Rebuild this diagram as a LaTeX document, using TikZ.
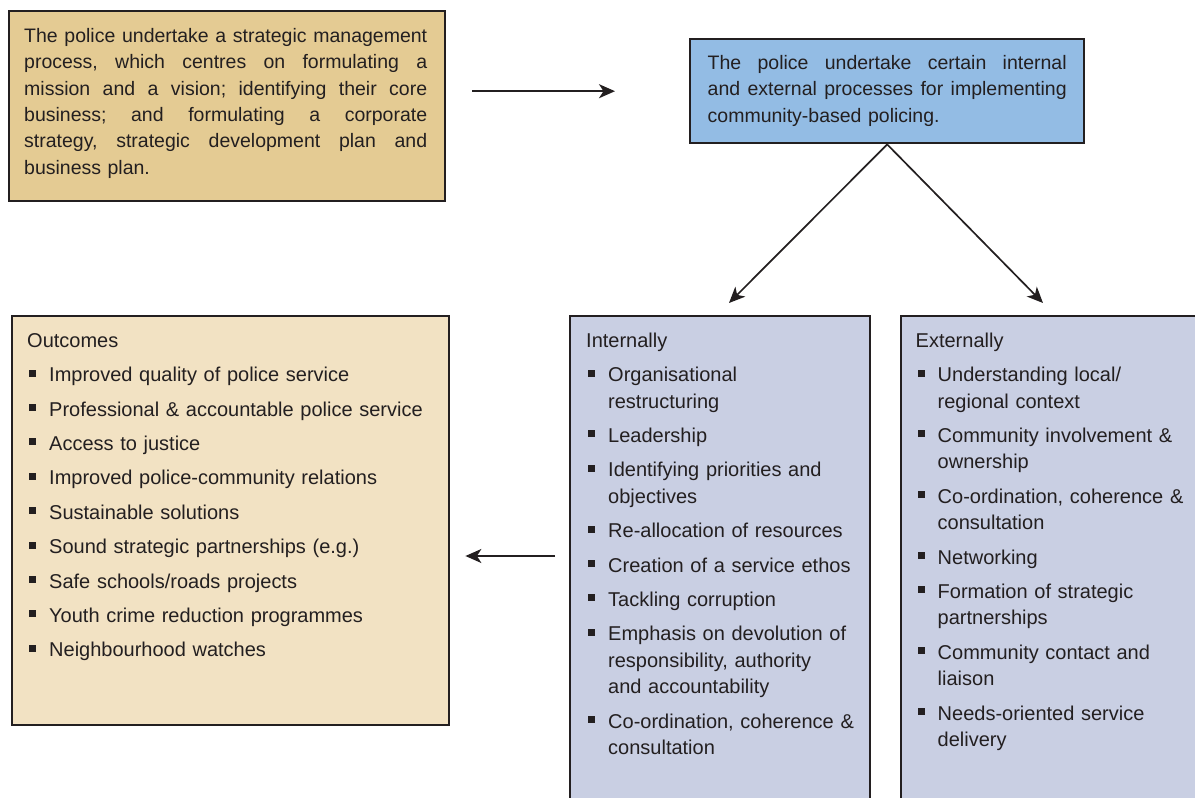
\documentclass[tikz,border=0pt]{standalone}
\usepackage{fontspec}
\setmainfont{Liberation Sans}
\usetikzlibrary{arrows.meta}
\definecolor{ink}{HTML}{231F20}
\definecolor{tanA}{HTML}{E4CB93}
\definecolor{tanB}{HTML}{F2E2C3}
\definecolor{blueA}{HTML}{93BCE4}
\definecolor{lavA}{HTML}{C9CFE3}
\newcommand\bul{\hspace*{2pt}\rule[5pt]{7pt}{7pt}\hspace*{13pt}}
\newcommand\ind{\hspace*{22pt}}
\newcommand\jl[2]{\leavevmode\hbox to #1{#2}}
\newcommand\jsp{ \hfill }
\tikzset{
  boxshape/.style={draw=ink, line width=2.4pt, rectangle, inner sep=0pt, anchor=north west},
  txt/.style={inner sep=0pt, anchor=north west, align=left, text=ink},
  listtxt/.style={txt, font=\fontsize{20}{26.4}\selectfont},
  arr/.style={draw=ink, line width=1.7pt, -{Stealth[length=16pt,width=14pt,inset=4.5pt]}}
}
\begin{document}
\begin{tikzpicture}[x=1pt,y=-1pt,font=\fontsize{19.5}{26.4}\selectfont]
\useasboundingbox (0,0) rectangle (1195,798);
\begin{scope}
\clip (0,0) rectangle (1195,798);
% boxes
\node[boxshape, fill=tanA, minimum width=436pt, minimum height=190pt] (strat) at (8,10) {};
\node[boxshape, fill=blueA, minimum width=394pt, minimum height=104pt] (proc) at (689,38) {};
\node[boxshape, fill=tanB, minimum width=437pt, minimum height=409pt] (outc) at (11,315) {};
\node[boxshape, fill=lavA, minimum width=300pt, minimum height=520pt] (intl) at (569,315) {};
\node[boxshape, fill=lavA, minimum width=320pt, minimum height=520pt] (extl) at (900,315) {};
\end{scope}
% texts
\node[txt, text width=403pt] (stratT) at (24,23.6) {\strut\jl{403pt}{The\jsp police\jsp undertake\jsp a\jsp strategic\jsp management}\\
\jl{403pt}{process,\jsp which\jsp centres\jsp on\jsp formulating\jsp a}\\
\jl{403pt}{mission\jsp and\jsp a\jsp vision;\jsp identifying\jsp their\jsp core}\\
\jl{403pt}{business;\jsp and\jsp formulating\jsp a\jsp corporate}\\
\jl{403pt}{strategy,\jsp strategic\jsp development\jsp plan\jsp and}\\
business plan.};
\node[txt, text width=359pt] (procT) at (707.5,50.6) {\strut\jl{359pt}{The\jsp police\jsp undertake\jsp certain\jsp internal}\\
\jl{359pt}{and\jsp external\jsp processes\jsp for\jsp implementing}\\
community-based policing.};
\node[listtxt, text width=420pt] (outcT) at (27,328.6) {\strut Outcomes\\[8pt]
\bul Improved quality of police service\\[8pt]
\bul Professional \& accountable police service\\[8pt]
\bul Access to justice\\[8pt]
\bul Improved police-community relations\\[8pt]
\bul Sustainable solutions\\[8pt]
\bul Sound strategic partnerships (e.g.)\\[8pt]
\bul Safe schools/roads projects\\[8pt]
\bul Youth crime reduction programmes\\[8pt]
\bul Neighbourhood watches};
\node[listtxt, text width=280pt] (intlT) at (586,328.6) {\strut Internally\\[8pt]
\bul Organisational\\
\ind restructuring\\[8pt]
\bul Leadership\\[8pt]
\bul Identifying priorities and\\
\ind objectives\\[8pt]
\bul Re-allocation of resources\\[8pt]
\bul Creation of a service ethos\\[8pt]
\bul Tackling corruption\\[8pt]
\bul Emphasis on devolution of\\
\ind responsibility, authority\\
\ind and accountability\\[8pt]
\bul Co-ordination, coherence \&\\
\ind consultation};
\node[listtxt, text width=278pt] (extlT) at (915.5,328.6) {\strut Externally\\[8pt]
\bul Understanding local/\\
\ind regional context\\[8pt]
\bul Community involvement \&\\
\ind ownership\\[8pt]
\bul Co-ordination, coherence \&\\
\ind consultation\\[8pt]
\bul Networking\\[8pt]
\bul Formation of strategic\\
\ind partnerships\\[8pt]
\bul Community contact and\\
\ind liaison\\[8pt]
\bul Needs-oriented service\\
\ind delivery};
% connectors
\coordinate (tipL) at (729,303);
\coordinate (tipR) at (1043,303);
\coordinate (lvl) at (0,556);
\draw[arr, shorten <=26pt, shorten >=74pt] (strat.east |- proc.west) -- (proc.west);
\draw[arr] (proc.south) -- (tipL);
\draw[arr] (proc.south) -- (tipR);
\draw[arr, shorten <=14pt, shorten >=15pt] (intl.west |- lvl) -- (outc.east |- lvl);
\end{tikzpicture}
\end{document}
